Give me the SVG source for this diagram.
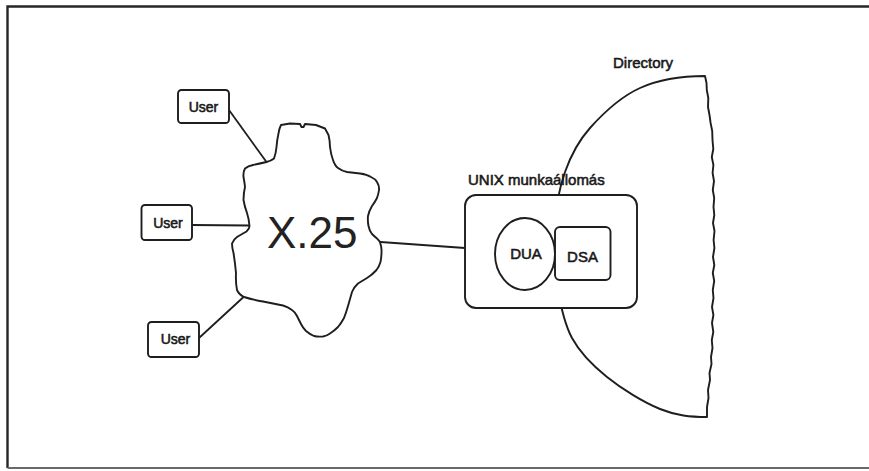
<svg xmlns="http://www.w3.org/2000/svg" width="869" height="471" viewBox="0 0 869 471">
  <style>
    .ln { fill: none; stroke: #1e1e1e; stroke-width: 1.8; stroke-linejoin: round; stroke-linecap: round; }
    .shape { fill: #ffffff; stroke: #1e1e1e; stroke-width: 1.9; stroke-linejoin: round; }
    .lbl { font-family: "Liberation Sans", Arial, Helvetica, sans-serif; fill: #181818; stroke: #181818; stroke-width: 0.55; }
    .big { font-family: "Liberation Sans", Arial, Helvetica, sans-serif; fill: #222222; font-size: 44px; }
    .frame { fill: none; stroke: #262626; stroke-width: 2.4; }
  </style>

  <rect width="869" height="471" fill="#ffffff"/>

  <!-- outer frame: open on the right -->
  <path class="frame" d="M869,6.5 L7.5,6.5 L7.5,468"/>
  <path d="M7.5,468 L869,468" fill="none" stroke="#6a6a6a" stroke-width="2"/>

  <!-- Directory: curved left side, ragged right cut -->
  <g id="directory">
    <path class="shape" d="M705,76
      C683,76 659.2,79.3 640,88
      C620.8,96.7 602.5,114 590,128
      C577.5,142 571,155 565,172
      C559,189 555.3,211.2 554,230
      C552.7,248.8 554,267 557,285
      C560,303 563.7,322.7 572,338
      C580.3,353.3 592.3,365.2 607,377
      C621.7,388.8 643.3,402.3 660,409
      C676.7,415.7 690,417 707,417
      L707,407 L708.5,398 L708,390 L710,380 L709.5,373 L711.5,364 L711,357 L712.5,348 L711.8,340 L713.3,332 L712,323 L713.4,315 L712,307 L713.5,298 L712.8,290 L714.2,281 L712.8,273 L714.3,265 L713,257 L714.4,248 L713.6,240 L714.5,231 L713,223 L714.3,215 L713.5,207 L714.2,198 L712.8,190 L714,181 L712.6,173 L713.4,165 L711.8,157 L713.3,149 L712.5,140 L712.2,131 L710.6,123 L709.5,115 L708,107 L708.3,98 L706.8,90 L706.5,83 Z"/>
    <text class="lbl" x="613" y="68" font-size="15">Directory</text>
  </g>

  <!-- connectors -->
  <g id="connectors">
    <line class="ln" x1="229" y1="110" x2="266.5" y2="162"/>
    <line class="ln" x1="192" y1="225" x2="249.5" y2="225.5"/>
    <line class="ln" x1="199" y1="338" x2="243" y2="297.5"/>
    <line class="ln" x1="380.5" y1="242" x2="465" y2="248"/>
  </g>

  <!-- X.25 network cloud -->
  <g id="x25">
    <path class="shape" d="M281,125 L290,123.5 L300,124 L301.5,127 L303.5,127 L305,124 L316,125 L325,128.5 L328.5,135
      Q330,141 330,147 Q331,155 333,160 Q335,166 338,168 Q342,171 347,172 L360,173.5 Q367,174.5 371,177
      Q375.5,179 377,182 Q379.5,186 379,190 Q378.5,194 377,198 Q375,202 372,206 Q369,211 368,216
      Q367.5,221 368.5,226 Q369.5,231 372,234 Q374.5,236.5 377,238.5 Q380,241 380.5,244 Q381.8,248 381.5,252
      Q381.5,257 380.5,262 Q379,267 376.5,270 Q372,275 367,278 Q362,281 358,283.5 Q354,287 352,292
      Q350,299 348,306 Q346,313 344,318 Q341,323.5 338,327 Q334,331 330,333.5 Q326.5,336 323,336.5
      Q318,337 314,336 Q309.5,334 306,331 Q303,328 301,324 Q299,320 297,316 Q295,312 292,310
      Q288,307 283,305.5 L263,301.5 Q252,299.5 244,297 Q239,294.5 237,290 Q235.5,282 236,273
      Q235,262 233.5,253 Q232,247.5 232,243.5 Q233.5,239.5 237,237 Q242,234 246.5,231.5 Q249.5,229 249.5,226
      Q249,219 247,213 Q244.5,206 243.5,200 Q243.5,193 245,187 Q244.5,182 243.5,177 Q243,172 245,168.5
      Q248,166 253,165 Q260,163.5 266.5,162 Q271,161 274,158.5 Q276,153 276.5,147 Q277,140 278.5,133.5 Q279,129 281,125 Z"/>
    <text class="big" x="267" y="248">X.25</text>
  </g>

  <!-- user terminals -->
  <g id="user1">
    <rect class="shape" x="178" y="90" width="51" height="33" rx="3.5"/>
    <text class="lbl" x="203.5" y="112" font-size="14" text-anchor="middle">User</text>
  </g>
  <g id="user2">
    <rect class="shape" x="141.5" y="205" width="50.5" height="35" rx="3.5"/>
    <text class="lbl" x="168" y="227.5" font-size="14" text-anchor="middle">User</text>
  </g>
  <g id="user3">
    <rect class="shape" x="148" y="322" width="51" height="35" rx="3.5"/>
    <text class="lbl" x="175.5" y="344" font-size="14" text-anchor="middle">User</text>
  </g>

  <!-- UNIX workstation hosting DUA and DSA -->
  <g id="unix">
    <text class="lbl" x="468" y="185" font-size="15">UNIX munkaállomás</text>
    <rect class="shape" x="465" y="195" width="172" height="113" rx="11"/>
  </g>
  <g id="dua">
    <ellipse class="shape" cx="525" cy="254" rx="30" ry="36"/>
    <text class="lbl" x="526" y="258.5" font-size="15" text-anchor="middle">DUA</text>
  </g>
  <g id="dsa">
    <rect class="shape" x="555" y="227" width="55.5" height="53" rx="5"/>
    <text class="lbl" x="582.5" y="262" font-size="15" text-anchor="middle">DSA</text>
  </g>
</svg>
